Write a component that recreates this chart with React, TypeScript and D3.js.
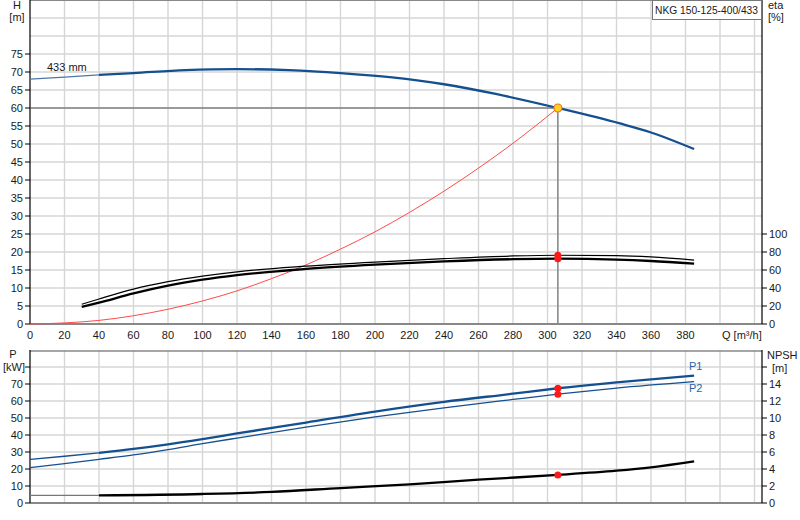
import * as d3 from "d3";

// pump curve H(Q)
const Q_H = [0, 20, 40, 60, 90, 120, 150, 180, 210, 240, 270, 306, 342, 360, 385];
const H_VALS = [68.0, 68.6, 69.2, 69.7, 70.5, 70.8, 70.5, 69.7, 68.5, 66.6, 63.9, 60.0, 55.7, 53.2, 48.6];

// system curve
const Q_SYS = [0, 20, 40, 60, 80, 100, 120, 140, 160, 180, 200, 220, 240, 260, 280, 306];
const H_SYS = [0, 0.3, 1.0, 2.3, 4.1, 6.4, 9.2, 12.6, 16.4, 20.8, 25.6, 31.0, 36.9, 43.3, 50.2, 60.0];

// efficiency curves
const Q_ETA = [30, 40, 60, 80, 100, 120, 160, 200, 240, 280, 306, 340, 360, 385];
const ETA_PUMP = [22, 27.8, 38.8, 47.0, 53.2, 58.0, 64.2, 68.8, 72.6, 75.6, 76.4, 76, 74.6, 71];
const ETA_TOTAL = [19, 23.7, 34.0, 42.6, 49.2, 54.3, 61.2, 66, 69.6, 72, 72.6, 71.6, 70, 67];

// power curves
const Q_P = [0, 20, 40, 60, 80, 100, 120, 160, 200, 240, 280, 306, 340, 385];
const P1_VALS = [25.7, 27.5, 29.5, 31.8, 34.5, 37.6, 40.9, 47.3, 53.8, 59.5, 64.3, 67.5, 71.0, 74.9];
const P2_VALS = [20.8, 23.2, 25.7, 28.3, 31.4, 34.9, 38.2, 44.6, 50.6, 56.0, 60.9, 64.0, 67.6, 71.4];

// NPSH
const Q_NPSH = [0, 40, 100, 140, 180, 220, 260, 306, 340, 360, 385];
const NPSH_VALS = [0.9, 0.9, 1.06, 1.3, 1.76, 2.2, 2.75, 3.3, 3.8, 4.2, 4.9];

const DUTY = { q: 306, h: 60.0, etaPump: 76.4, etaTotal: 72.6, p1: 67.5, p2: 64.0, npsh: 3.3 };

const Q_TICKS = d3.range(0, 400, 20);
const Q_GRID = d3.range(20, 440, 20);
const H_TICKS = d3.range(0, 80, 5);
const H_GRID = d3.range(5, 90, 5);
const ETA_TICKS = d3.range(0, 120, 20);
const P_TICKS = d3.range(0, 80, 10);
const P_GRID = d3.range(10, 90, 10);
const NPSH_TICKS = d3.range(0, 16, 2);

const BLUE = "#14508f";
const FONT = "'Liberation Sans', Arial, sans-serif";

export default function App() {
  const left = 30;
  const right = 762;
  const x = d3.scaleLinear().domain([0, 424.35]).range([left, right]);
  const yH = d3.scaleLinear().domain([0, 90]).range([324, 0]);
  const yEta = d3.scaleLinear().domain([0, 360]).range([324, 0]);
  const yP = d3.scaleLinear().domain([0, 90]).range([503, 350]);
  const yN = d3.scaleLinear().domain([0, 18]).range([503, 350]);

  const mk = (qs: number[], vs: number[], y: d3.ScaleLinear<number, number>, from = -1, to = 1e9) => {
    const pts = qs.map((q, i) => [q, vs[i]] as [number, number]).filter((p) => p[0] >= from && p[0] <= to);
    return d3
      .line<[number, number]>()
      .x((d) => x(d[0]))
      .y((d) => y(d[1]))
      .curve(d3.curveMonotoneX)(pts) as string;
  };

  const grid = "#d6d6d6";
  const txt = { fontFamily: FONT, fontSize: 11, fill: "#1a1a1a" } as const;

  return (
    <div style={{ position: "fixed", left: 0, top: 0 }}>
      <svg width={800} height={520} style={{ display: "block", background: "#fff" }}>
        {/* ---- top panel ---- */}
        <g>
          {Q_GRID.map((q) => (
            <line key={"vg" + q} x1={x(q)} x2={x(q)} y1={0} y2={324} stroke={grid} strokeWidth={1.4} />
          ))}
          {H_GRID.map((h) => (
            <line key={"hg" + h} x1={left} x2={right} y1={yH(h)} y2={yH(h)} stroke={grid} strokeWidth={1.4} />
          ))}
          <line x1={left} x2={right} y1={0.5} y2={0.5} stroke="#888" strokeWidth={1} />
          <line x1={left} x2={right} y1={324} y2={324} stroke="#888" strokeWidth={2} />
          <line x1={left} x2={left} y1={0} y2={324} stroke="#000" strokeWidth={1.2} />
          <line x1={right} x2={right} y1={0} y2={324} stroke="#000" strokeWidth={1.2} />

          {H_TICKS.map((h) => (
            <g key={"ht" + h}>
              <line x1={left - 5} x2={left} y1={yH(h)} y2={yH(h)} stroke="#000" />
              <text x={left - 7} y={yH(h) + 4} textAnchor="end" {...txt}>{h}</text>
            </g>
          ))}
          {ETA_TICKS.map((e) => (
            <g key={"et" + e}>
              <line x1={right} x2={right + 5} y1={yEta(e)} y2={yEta(e)} stroke="#000" />
              <text x={right + 7} y={yEta(e) + 4} {...txt}>{e}</text>
            </g>
          ))}
          {Q_TICKS.map((q) => (
            <text key={"qt" + q} x={x(q)} y={339} textAnchor="middle" {...txt}>{q}</text>
          ))}
          <text x={722} y={339} {...txt}>Q [m³/h]</text>

          <text x={17} y={9} textAnchor="middle" {...txt}>H</text>
          <text x={17} y={21} textAnchor="middle" {...txt}>[m]</text>
          <text x={768} y={9} {...txt}>eta</text>
          <text x={768} y={21} {...txt}>[%]</text>

          {/* operating point guides */}
          <line x1={left} x2={x(DUTY.q)} y1={yH(DUTY.h)} y2={yH(DUTY.h)} stroke="#555" strokeWidth={1} />
          <line x1={x(DUTY.q)} x2={x(DUTY.q)} y1={yH(DUTY.h)} y2={324} stroke="#8a8a8a" strokeWidth={1.6} />

          {/* system curve */}
          <path d={mk(Q_SYS, H_SYS, yH)} fill="none" stroke="#ff4a4a" strokeWidth={1} />

          {/* efficiency */}
          <path d={mk(Q_ETA, ETA_PUMP, yEta)} fill="none" stroke="#000" strokeWidth={1.2} />
          <path d={mk(Q_ETA, ETA_TOTAL, yEta)} fill="none" stroke="#000" strokeWidth={2.3} />

          {/* pump curve */}
          <path d={mk(Q_H, H_VALS, yH, 0, 40)} fill="none" stroke="#4f77a6" strokeWidth={1.3} />
          <path d={mk(Q_H, H_VALS, yH, 40)} fill="none" stroke={BLUE} strokeWidth={2.3} />
          <text x={47} y={71} {...txt}>433 mm</text>

          <circle cx={x(DUTY.q)} cy={yEta(DUTY.etaPump)} r={3.5} fill="#ff1a1a" />
          <circle cx={x(DUTY.q)} cy={yEta(DUTY.etaTotal)} r={3.5} fill="#ff1a1a" />
          <circle cx={x(DUTY.q)} cy={yH(DUTY.h)} r={4} fill="#ffd21f" stroke="#f07020" strokeWidth={1.2} />

          <rect x={652.5} y={0.5} width={109} height={19} fill="#fff" stroke="#777" strokeWidth={1} />
          <text x={655} y={14} textLength={103} lengthAdjust="spacingAndGlyphs" {...txt}>
            NKG 150-125-400/433
          </text>
        </g>

        {/* ---- bottom panel ---- */}
        <g>
          {Q_GRID.map((q) => (
            <line key={"vg2" + q} x1={x(q)} x2={x(q)} y1={350} y2={503} stroke={grid} strokeWidth={1.4} />
          ))}
          {P_GRID.map((p) => (
            <line key={"pg" + p} x1={left} x2={right} y1={yP(p)} y2={yP(p)} stroke={grid} strokeWidth={1.4} />
          ))}
          <line x1={left} x2={right} y1={351} y2={351} stroke="#888" strokeWidth={1.4} />
          <line x1={left} x2={right} y1={503} y2={503} stroke="#888" strokeWidth={2} />
          <line x1={left} x2={left} y1={350} y2={503} stroke="#000" strokeWidth={1.2} />
          <line x1={right} x2={right} y1={350} y2={503} stroke="#000" strokeWidth={1.2} />

          {[...P_TICKS, 80].map((p) => (
            <g key={"pt" + p}>
              <line x1={left - 5} x2={left} y1={yP(p)} y2={yP(p)} stroke="#000" />
              {p < 80 && (
                <text x={left - 7} y={yP(p) + 4} textAnchor="end" {...txt}>{p}</text>
              )}
            </g>
          ))}
          {[...NPSH_TICKS, 16].map((n) => (
            <g key={"nt" + n}>
              <line x1={right} x2={right + 5} y1={yN(n)} y2={yN(n)} stroke="#000" />
              {n < 16 && (
                <text x={right + 7} y={yN(n) + 4} {...txt}>{n}</text>
              )}
            </g>
          ))}
          <text x={13} y={358} textAnchor="middle" {...txt}>P</text>
          <text x={14} y={371} textAnchor="middle" {...txt}>[kW]</text>
          <text x={767} y={359} {...txt}>NPSH</text>
          <text x={772} y={372} {...txt}>[m]</text>

          <path d={mk(Q_NPSH, NPSH_VALS, yN, 0, 40)} fill="none" stroke="#777" strokeWidth={1.2} />
          <path d={mk(Q_NPSH, NPSH_VALS, yN, 40)} fill="none" stroke="#000" strokeWidth={2.3} />

          <path d={mk(Q_P, P2_VALS, yP)} fill="none" stroke={BLUE} strokeWidth={1.3} />
          <path d={mk(Q_P, P1_VALS, yP, 0, 40)} fill="none" stroke={BLUE} strokeWidth={1.3} />
          <path d={mk(Q_P, P1_VALS, yP, 40)} fill="none" stroke={BLUE} strokeWidth={2.3} />

          <text x={689} y={370} fill="#2a62a6" fontFamily={FONT} fontSize={11}>P1</text>
          <text x={689} y={392} fill="#2a62a6" fontFamily={FONT} fontSize={11}>P2</text>

          <circle cx={x(DUTY.q)} cy={yP(DUTY.p1)} r={3.5} fill="#ff1a1a" />
          <circle cx={x(DUTY.q)} cy={yP(DUTY.p2)} r={3.5} fill="#ff1a1a" />
          <circle cx={x(DUTY.q)} cy={yN(DUTY.npsh)} r={3.5} fill="#ff1a1a" />
        </g>
      </svg>
    </div>
  );
}
